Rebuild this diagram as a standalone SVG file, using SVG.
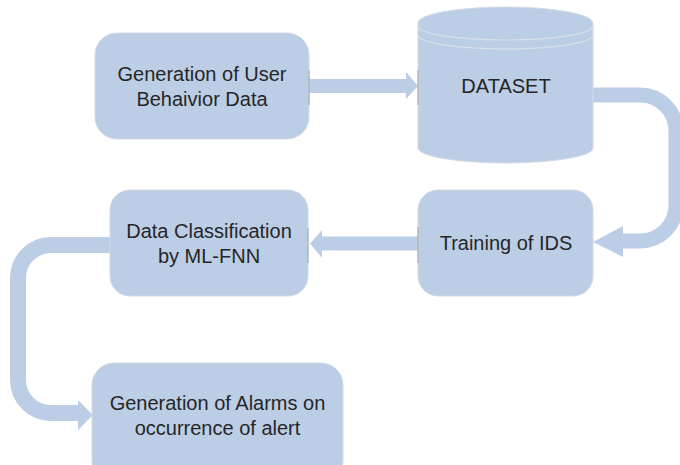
<svg xmlns="http://www.w3.org/2000/svg" width="680" height="465" viewBox="0 0 680 465">
  <style>
    .box { fill: #bccee6; stroke: #d3dae5; stroke-width: 1; }
    .lbl { font-family: "Liberation Sans", Arial, sans-serif; font-size: 20px; fill: #262626; text-anchor: middle; }
    .flow { fill: none; stroke: #bccee6; stroke-linejoin: round; }
    .head { fill: #bccee6; }
    .tick { stroke: #b0b0b0; stroke-width: 1.3; }
    .ring { fill: none; stroke: #d9dfe8; stroke-width: 1.2; }
  </style>
  <rect width="680" height="465" fill="#ffffff"/>

  <!-- connectors -->
  <g id="connectors">
    <!-- user data to dataset -->
    <path class="flow" stroke-width="14" d="M309,86 H408"/>
    <polygon class="head" points="406,72 418,86 406,99"/>
    <!-- dataset loops round to training -->
    <path class="flow" stroke-width="15" d="M593,95 H640 A36,36 0 0 1 676,131 V205 A36,36 0 0 1 640,241 H622"/>
    <polygon class="head" points="623,226 593,242 623,257"/>
    <!-- training to classification -->
    <path class="flow" stroke-width="14" d="M418,243.5 H321"/>
    <polygon class="head" points="322,230 310,243.5 322,258"/>
    <!-- classification loops down to alarms -->
    <path class="flow" stroke-width="16" d="M111,245 H51 A33,33 0 0 0 18,278 V380 A33,33 0 0 0 51,413 H79"/>
    <polygon class="head" points="78,400 93,415 78,430"/>
  </g>

  <g id="n-userdata">
    <rect class="box" x="95" y="33" width="214" height="106" rx="22"/>
    <text class="lbl" x="202" y="81">Generation of User</text>
    <text class="lbl" x="202" y="106">Behaivior Data</text>
  </g>

  <g id="n-dataset">
    <path class="box" d="M418,23 A87.5,16 0 0 1 593,23 V148 A87.5,15 0 0 1 418,148 Z"/>
    <path class="ring" d="M418,26 A87.5,14 0 0 0 593,26"/>
    <path class="ring" d="M418,35 A87.5,14 0 0 0 593,35"/>
    <text class="lbl" x="506" y="93">DATASET</text>
  </g>

  <g id="n-training">
    <rect class="box" x="418" y="190" width="175" height="106" rx="20"/>
    <text class="lbl" x="506" y="250">Training of IDS</text>
  </g>

  <g id="n-classify">
    <rect class="box" x="110" y="190" width="198" height="106" rx="20"/>
    <text class="lbl" x="209" y="238">Data Classification</text>
    <text class="lbl" x="209" y="263">by ML-FNN</text>
  </g>

  <g id="n-alarms">
    <rect class="box" x="92" y="363" width="251" height="120" rx="22"/>
    <text class="lbl" x="217.5" y="410">Generation of Alarms on</text>
    <text class="lbl" x="217.5" y="435">occurrence of alert</text>
  </g>

  <!-- attachment marks where the straight arrows meet the shapes -->
  <g id="attach-marks">
    <line class="tick" x1="309" y1="70" x2="309" y2="105"/>
    <line class="tick" x1="418" y1="70" x2="418" y2="105"/>
    <line class="tick" x1="418" y1="227" x2="418" y2="263"/>
    <line class="tick" x1="308" y1="228" x2="308" y2="263"/>
  </g>
</svg>
